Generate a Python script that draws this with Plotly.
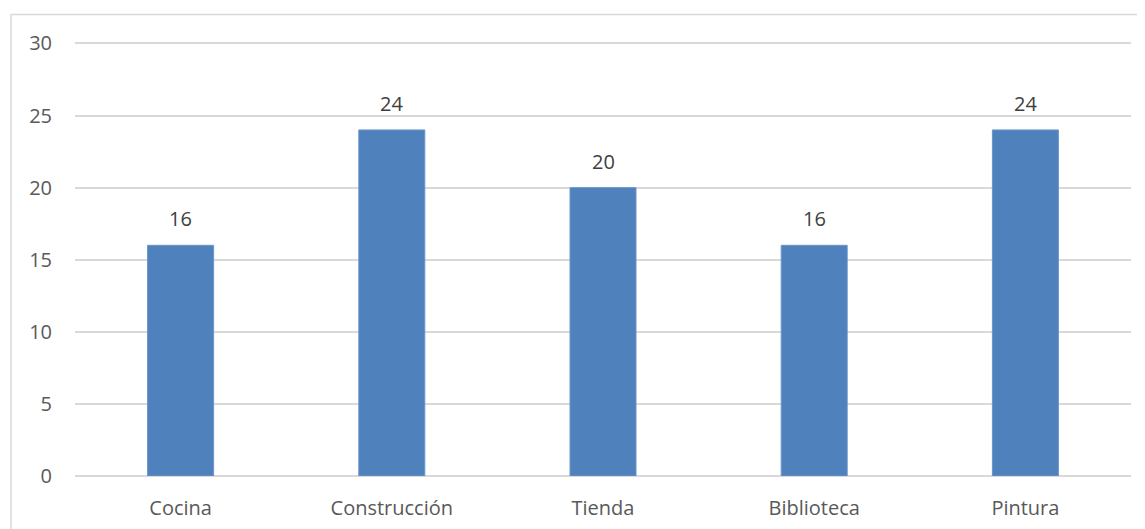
import plotly.graph_objects as go

categories = ["Cocina", "Construcción", "Tienda", "Biblioteca", "Pintura"]
values = [16, 24, 20, 16, 24]
y_ticks = [0, 5, 10, 15, 20, 25, 30]

# page body has an 8px margin; size figure so it ends at the window edge
W, H = 1137, 521
L, R, T, B = 67, 14, 33.5, 53
FS = 20

fig = go.Figure(go.Bar(
    x=categories, y=values,
    marker=dict(color="#4F81BD", line=dict(color="#6A95C8", width=1)),
    hoverinfo="x+y",
))
for c, v in zip(categories, values):
    fig.add_annotation(x=c, y=v, text=str(v), showarrow=False, yanchor="bottom",
                       yshift=11, font=dict(family="Open Sans", size=FS, color="#404040"))

fig.update_layout(
    width=W, height=H,
    margin=dict(l=L, r=R, t=T, b=B),
    paper_bgcolor="white", plot_bgcolor="white",
    bargap=0.6875,
    showlegend=False,
    font=dict(family="Open Sans", size=FS, color="#595959"),
    xaxis=dict(showgrid=False, showline=False, zeroline=False, ticks="", automargin=False,
               tickfont=dict(size=FS, color="#595959"), ticklabelstandoff=18),
    yaxis=dict(range=[0, 30.1], tickvals=y_ticks, showgrid=True, gridcolor="#D9D9D9",
               gridwidth=1.5, zeroline=True, zerolinecolor="#D9D9D9", zerolinewidth=1.5,
               showline=False, ticks="", tickfont=dict(size=FS, color="#595959"),
               ticklabelstandoff=22, automargin=False),
    shapes=[dict(type="rect", xref="paper", yref="paper",
                 x0=(3 - L) / (W - L - R), x1=1.1,
                 y0=-0.2, y1=1 + (T - 6) / (H - T - B),
                 line=dict(color="#D9D9D9", width=1.5), layer="below")],
)
fig.write_html("out.html")
